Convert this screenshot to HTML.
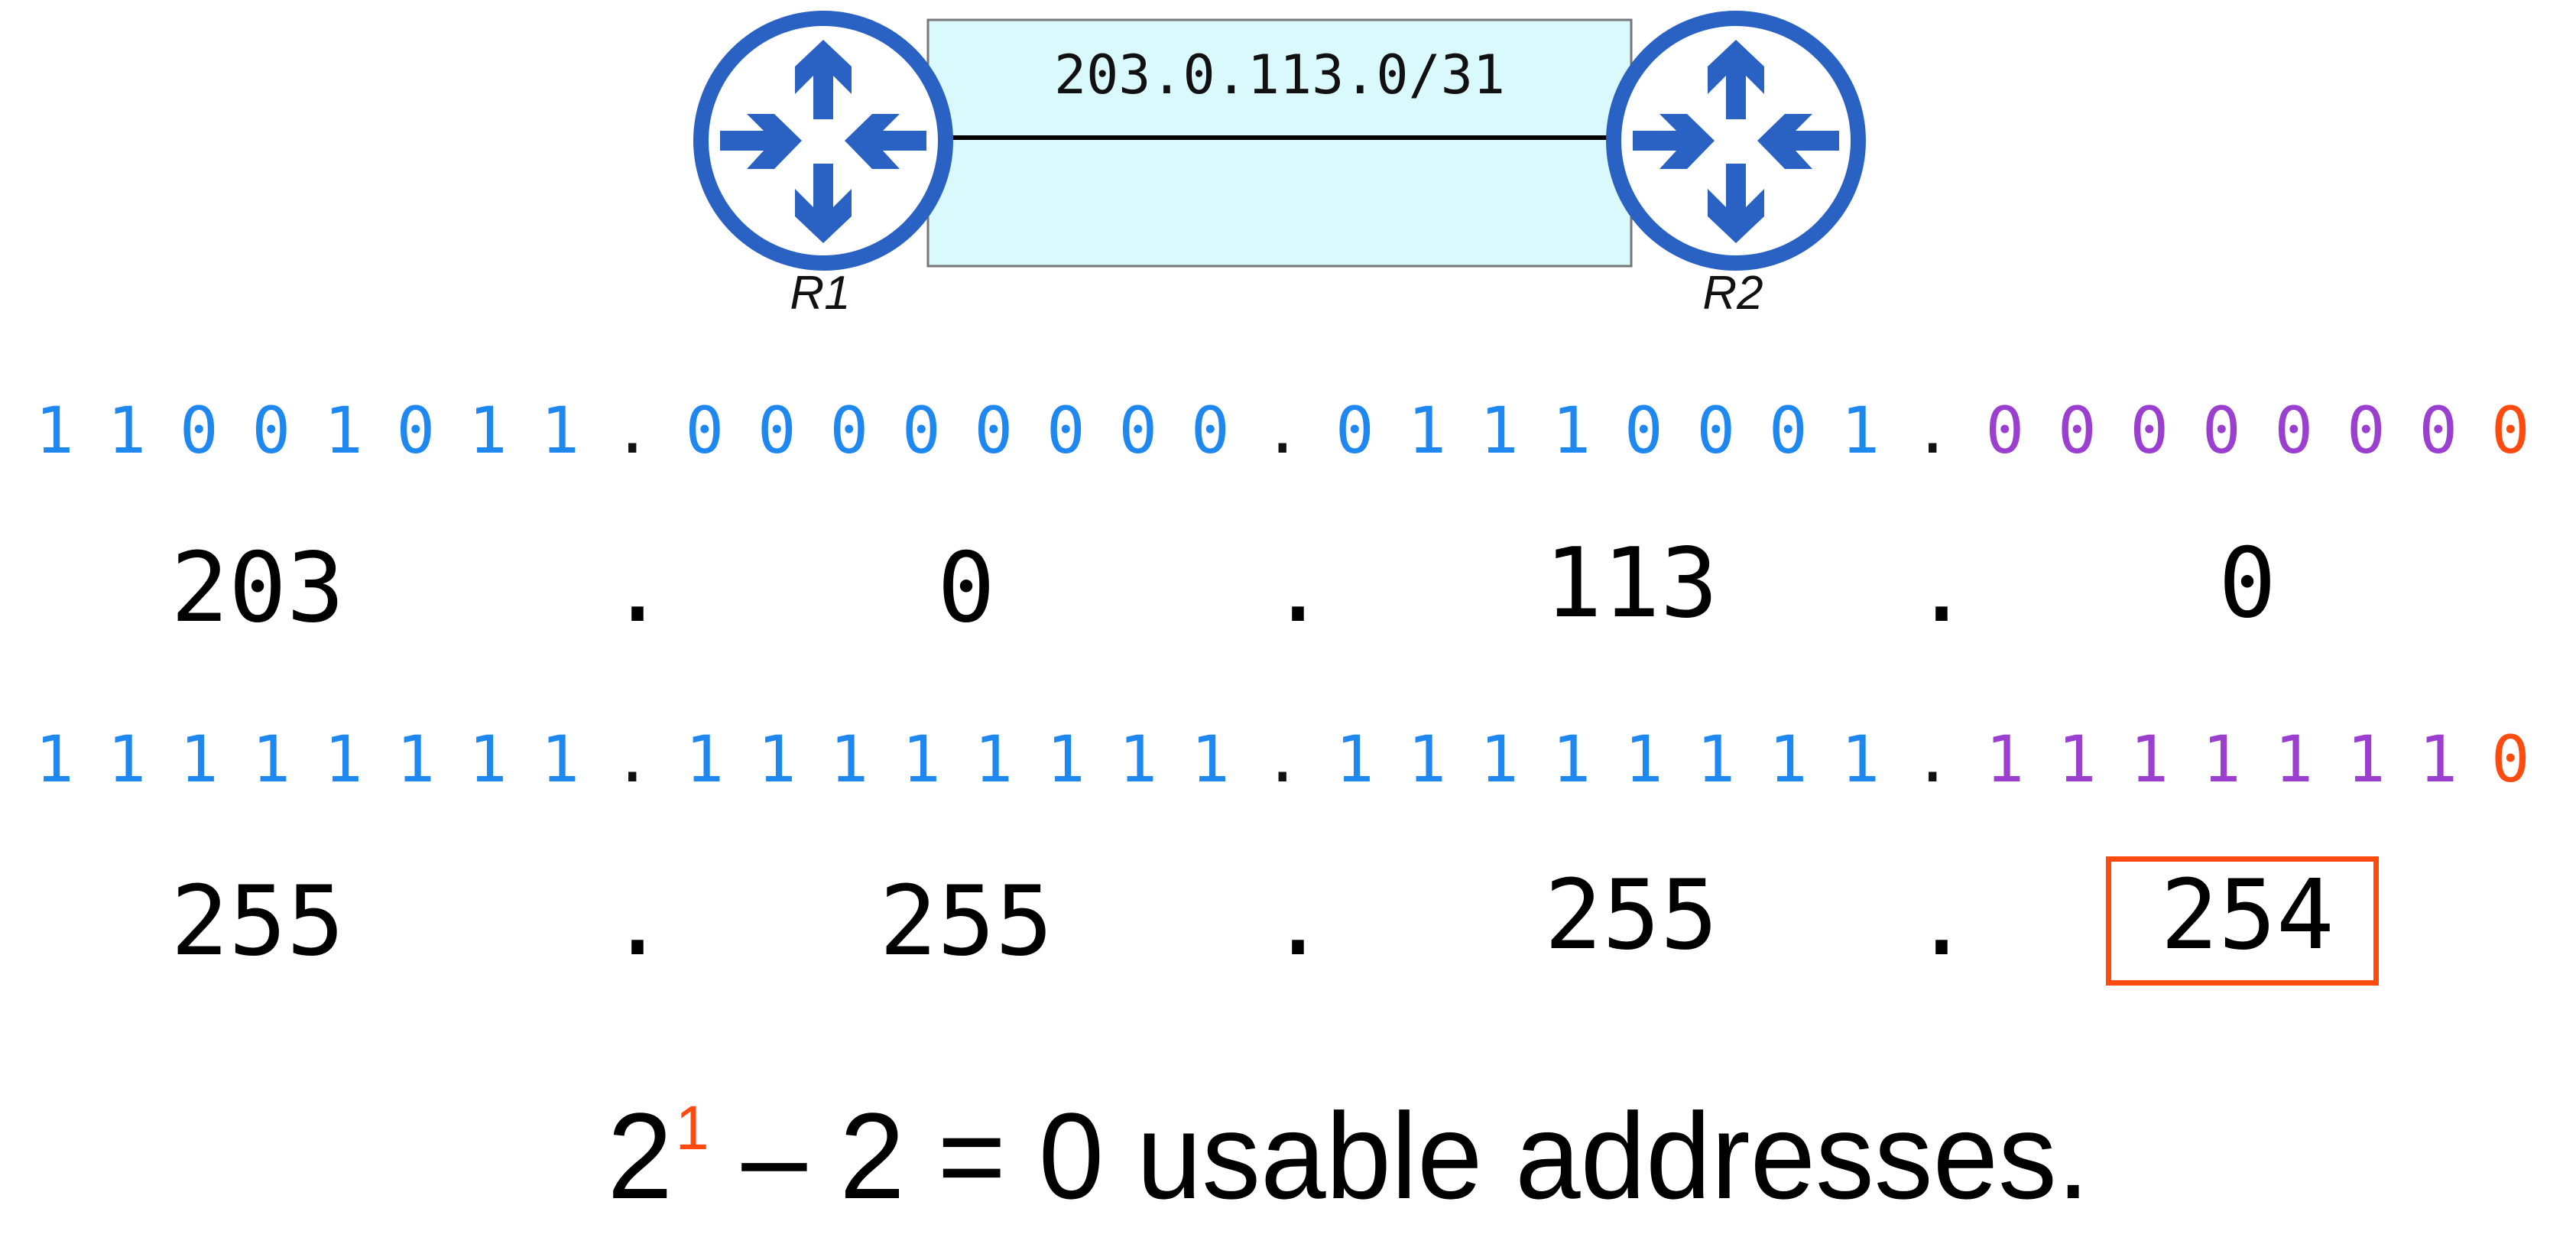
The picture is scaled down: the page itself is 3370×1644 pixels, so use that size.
<!DOCTYPE html>
<html><head><meta charset="utf-8"><style>
html,body{margin:0;padding:0;background:#fff;}
body{width:3370px;height:1644px;position:relative;overflow:hidden;}
.a{position:absolute;white-space:nowrap;}
.row{position:absolute;left:24px;font-family:"DejaVu Sans Mono","Liberation Mono",monospace;font-size:84px;line-height:1;}
.row span{display:inline-block;width:94.5px;text-align:center;}
.b{color:#1e88f0}.p{color:#9b3fd0}.o{color:#ff4a10}.k{color:#111}
.dec{position:absolute;font-family:"DejaVu Sans Mono","Liberation Mono",monospace;font-size:126px;line-height:1;color:#000;transform:translateX(-50%);}
</style></head><body>
<svg class="a" style="left:0;top:0" width="3370" height="420">
<rect x="1214" y="26" width="920" height="322" fill="#d9f9fd" stroke="#777" stroke-width="3"/>
<line x1="1240" y1="180" x2="2110" y2="180" stroke="#000" stroke-width="6"/>
<text x="1674" y="122" text-anchor="middle" font-family="DejaVu Sans Mono, Liberation Mono, monospace" font-size="70" fill="#111">203.0.113.0/31</text>
<g id="r" transform="translate(1077,184)">
<circle r="160" fill="#fff" stroke="#2a62c4" stroke-width="20"/>
<g fill="#2a62c4">
<polygon points="0,-132 37,-97 37,-61 13,-85 13,-28 -13,-28 -13,-85 -37,-61 -37,-97"/>
<polygon points="0,134 37,99 37,63 13,87 13,30 -13,30 -13,87 -37,63 -37,99"/>
<polygon points="-135,-13 -78,-13 -100,-35 -64,-35 -28,0 -64,37 -100,37 -78,13 -135,13"/>
<polygon points="135,-13 78,-13 100,-35 64,-35 28,0 64,37 100,37 78,13 135,13"/>
</g></g>
<use href="#r" transform="translate(1194,0)"/>
<text x="1073" y="404" text-anchor="middle" font-family="Liberation Sans, sans-serif" font-style="italic" font-size="62" fill="#111">R1</text>
<text x="2267" y="404" text-anchor="middle" font-family="Liberation Sans, sans-serif" font-style="italic" font-size="62" fill="#111">R2</text>
</svg>

<div class="row" style="top:521px"><span class="b">1</span><span class="b">1</span><span class="b">0</span><span class="b">0</span><span class="b">1</span><span class="b">0</span><span class="b">1</span><span class="b">1</span><span class="k">.</span><span class="b">0</span><span class="b">0</span><span class="b">0</span><span class="b">0</span><span class="b">0</span><span class="b">0</span><span class="b">0</span><span class="b">0</span><span class="k">.</span><span class="b">0</span><span class="b">1</span><span class="b">1</span><span class="b">1</span><span class="b">0</span><span class="b">0</span><span class="b">0</span><span class="b">1</span><span class="k">.</span><span class="p">0</span><span class="p">0</span><span class="p">0</span><span class="p">0</span><span class="p">0</span><span class="p">0</span><span class="p">0</span><span class="o">0</span></div>

<div class="row" style="top:951px"><span class="b">1</span><span class="b">1</span><span class="b">1</span><span class="b">1</span><span class="b">1</span><span class="b">1</span><span class="b">1</span><span class="b">1</span><span class="k">.</span><span class="b">1</span><span class="b">1</span><span class="b">1</span><span class="b">1</span><span class="b">1</span><span class="b">1</span><span class="b">1</span><span class="b">1</span><span class="k">.</span><span class="b">1</span><span class="b">1</span><span class="b">1</span><span class="b">1</span><span class="b">1</span><span class="b">1</span><span class="b">1</span><span class="b">1</span><span class="k">.</span><span class="p">1</span><span class="p">1</span><span class="p">1</span><span class="p">1</span><span class="p">1</span><span class="p">1</span><span class="p">1</span><span class="o">0</span></div>

<div class="dec" style="left:337px;top:706px">203</div>
<div class="dec" style="left:834px;top:706px">.</div>
<div class="dec" style="left:1264px;top:706px">0</div>
<div class="dec" style="left:1698px;top:706px">.</div>
<div class="dec" style="left:2134px;top:700px">113</div>
<div class="dec" style="left:2540px;top:706px">.</div>
<div class="dec" style="left:2940px;top:700px">0</div>

<div class="dec" style="left:337px;top:1142px">255</div>
<div class="dec" style="left:834px;top:1142px">.</div>
<div class="dec" style="left:1264px;top:1142px">255</div>
<div class="dec" style="left:1698px;top:1142px">.</div>
<div class="dec" style="left:2134px;top:1134px">255</div>
<div class="dec" style="left:2540px;top:1142px">.</div>
<div class="dec" style="left:2940px;top:1134px">254</div>
<div class="a" style="left:2755px;top:1120px;width:343px;height:155px;border:7px solid #ff4a10;"></div>

<div class="a" style="left:1764px;top:1432px;transform:translateX(-50%) scaleX(0.96);font-family:'Liberation Sans',sans-serif;font-size:160px;line-height:1;color:#000;">2<span style="color:#ff4a10;font-size:82px;vertical-align:64px;margin-left:4px;">1</span> – 2 = 0 usable addresses.</div>
</body></html>
